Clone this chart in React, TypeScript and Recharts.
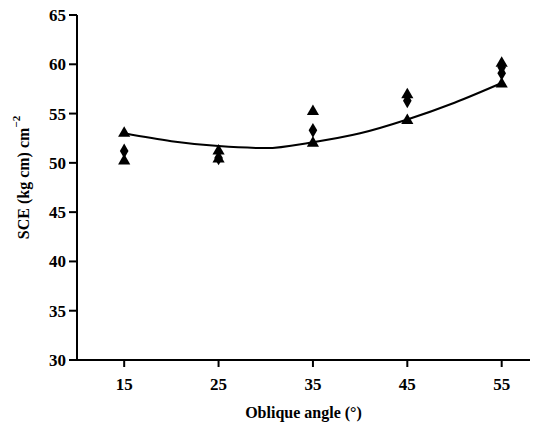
import React from 'react';
import { ComposedChart, Line, Scatter, XAxis, YAxis } from 'recharts';

const xTicks = [15, 25, 35, 45, 55];
const yTicks = [30, 35, 40, 45, 50, 55, 60, 65];

const fitX = [15, 20, 25, 30, 35, 40, 45, 50, 55];
const fitY = [53.0, 52.2, 51.7, 51.5, 52.1, 53.0, 54.4, 56.1, 58.1];

const triX = [15, 15, 25, 25, 35, 35, 45, 45, 55, 55];
const triY = [53.0, 50.2, 51.2, 50.4, 55.2, 52.0, 56.9, 54.3, 60.1, 58.0];

const diaX = [15, 25, 35, 45, 55, 55];
const diaY = [51.2, 50.5, 53.3, 56.3, 59.7, 59.1];

const fitData = fitX.map((x, i) => ({ x, y: fitY[i] }));
const triData = triX.map((x, i) => ({ x, y: triY[i] }));
const diaData = diaX.map((x, i) => ({ x, y: diaY[i] }));

const FONT = "'Liberation Serif', 'Times New Roman', serif";
const tickStyle = { fill: '#000', fontFamily: FONT, fontWeight: 'bold', fontSize: 17, style: { fontFamily: FONT } } as any;

const YLabel = (props: any) => {
  const vb = props.viewBox || {};
  const cx = 23;
  const cy = (vb.y ?? 15) + (vb.height ?? 345) / 2 - 10;
  return (
    <text
      x={cx}
      y={cy}
      transform={`rotate(-90 ${cx} ${cy})`}
      textAnchor="middle"
      dominantBaseline="central"
      style={{ fontFamily: FONT, fontWeight: 'bold', fontSize: 16 }}
      fill="#000"
    >
      SCE (kg cm) cm
      <tspan dy={-7} style={{ fontSize: 11 }}>−2</tspan>
    </text>
  );
};

const XLabel = (props: any) => {
  const vb = props.viewBox || {};
  const cx = (vb.x ?? 77) + (vb.width ?? 453) / 2;
  return (
    <text
      x={cx}
      y={412}
      textAnchor="middle"
      dominantBaseline="central"
      style={{ fontFamily: FONT, fontWeight: 'bold', fontSize: 16 }}
      fill="#000"
    >
      Oblique angle (°)
    </text>
  );
};

export default function App() {
  return (
    <div style={{ position: 'absolute', left: 0, top: 0, background: '#fff' }}>
      <ComposedChart
        width={542}
        height={429}
        margin={{ top: 15, right: 12, bottom: 39, left: 0 }}
      >
        <XAxis
          type="number"
          dataKey="x"
          domain={[10, 58]}
          ticks={xTicks}
          allowDuplicatedCategory={false}
          axisLine={{ stroke: '#000', strokeWidth: 2 }}
          tickLine={{ stroke: '#000', strokeWidth: 2 }}
          tickSize={7}
          height={30}
          tick={tickStyle}
          tickMargin={11}
          label={<XLabel />}
        />
        <YAxis
          type="number"
          dataKey="y"
          domain={[30, 65]}
          ticks={yTicks}
          width={77}
          axisLine={{ stroke: '#000', strokeWidth: 2 }}
          tickLine={{ stroke: '#000', strokeWidth: 2 }}
          tickSize={8}
          tickMargin={3}
          tick={tickStyle}
          label={<YLabel />}
        />
        <Line
          data={fitData}
          dataKey="y"
          type="monotone"
          stroke="#000"
          strokeWidth={2}
          dot={false}
          activeDot={false}
          isAnimationActive={false}
        />
        <Scatter
          data={triData}
          dataKey="y"
          shape="triangle"
          fill="#000"
          size={75}
          isAnimationActive={false}
        />
        <Scatter
          data={diaData}
          dataKey="y"
          shape="diamond"
          fill="#000"
          size={110}
          isAnimationActive={false}
        />
      </ComposedChart>
    </div>
  );
}
